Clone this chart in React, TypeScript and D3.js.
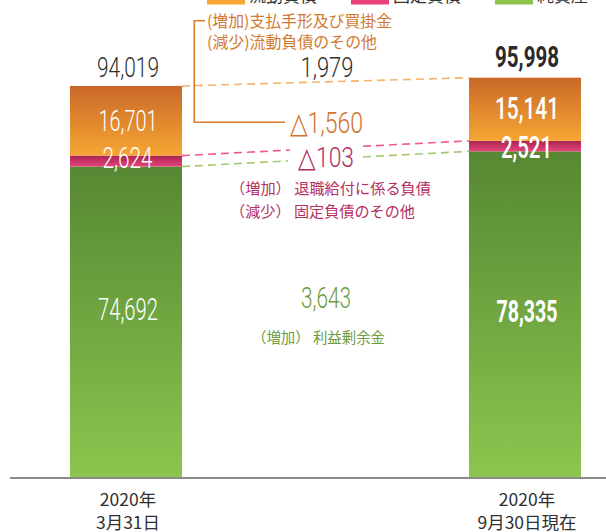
import React from "react";
import * as d3 from "d3";

const categories = ["2020年3月31日", "2020年9月30日現在"];
const categoryLine1 = ["2020年", "2020年"];
const categoryLine2 = ["3月31日", "9月30日現在"];
const currentLiabilities = [16701, 15141];
const fixedLiabilities = [2624, 2521];
const netAssets = [74692, 78335];
const totals = [94019, 95998];
const legendLabels = ["流動負債", "固定負債", "純資産"];
const changeCurrent = ["1,979", "△1,560"];
const changeFixed = "△103";
const changeNet = "3,643";
const noteCurrent = ["(増加)支払手形及び買掛金", "(減少)流動負債のその他"];
const noteFixed = ["（増加） 退職給付に係る負債", "（減少） 固定負債のその他"];
const noteNet = "（増加） 利益剰余金";

const W = 606;
const H = 532;
const NUM = "Roboto, 'DejaVu Sans', sans-serif";
const JP = "'Noto Sans CJK JP', 'Noto Sans', sans-serif";

export default function App() {
  const y = d3.scaleLinear().domain([0, 100000]).range([478, 61]);
  const x = d3.scalePoint<string>().domain(categories).range([126, 525]);
  const bw = 112;

  const fmt = d3.format(",");

  const segs = categories.map((c, i) => {
    const g0 = 0;
    const g1 = netAssets[i];
    const p1 = g1 + fixedLiabilities[i];
    const o1 = p1 + currentLiabilities[i];
    return { c, i, g0, g1, p1, o1 };
  });

  const bold = [false, true];
  const xl = x(categories[0])! + bw / 2;
  const xr = x(categories[1])! - bw / 2;

  const dashSeg = (y0: number, y1: number, gapA: number, gapB: number) => {
    const ly = d3.scaleLinear().domain([xl, xr]).range([y0, y1]);
    return [
      [xl, ly(xl), gapA, ly(gapA)],
      [gapB, ly(gapB), xr, ly(xr)],
    ];
  };

  const pinkSegs = dashSeg(y(segs[0].p1), y(segs[1].p1), 290, 363);
  const greenSegs = dashSeg(y(segs[0].g1), y(segs[1].g1), 288, 363);

  const numText = (
    key: string,
    txt: string,
    cx: number,
    by: number,
    fs: number,
    len: number,
    fill: string,
    weight: number
  ) => (
    <text
      key={key}
      x={cx - len / 2}
      y={by}
      fontSize={fs}
      fontFamily={NUM}
      fontWeight={weight}
      fill={fill}
      textLength={len}
      lengthAdjust="spacingAndGlyphs"
    >
      {txt}
    </text>
  );

  const legendX = [207, 351, 495];
  const legendColors = ["#f5a634", "#e8407a", "#8cc34a"];

  return (
    <svg
      width={W}
      height={H}
      style={{ position: "absolute", left: 0, top: 0, display: "block" }}
    >
      <defs>
        <linearGradient id="gOrange" x1="0" y1="0" x2="0" y2="1">
          <stop offset="0" stopColor="#c96828" />
          <stop offset="1" stopColor="#f6a634" />
        </linearGradient>
        <linearGradient id="gPink" x1="0" y1="0" x2="0" y2="1">
          <stop offset="0" stopColor="#a8264f" />
          <stop offset="1" stopColor="#e5437b" />
        </linearGradient>
        <linearGradient id="gGreen" x1="0" y1="0" x2="0" y2="1">
          <stop offset="0" stopColor="#578733" />
          <stop offset="1" stopColor="#8bc64e" />
        </linearGradient>
      </defs>
      <rect width={W} height={H} fill="#fff" />

      {/* legend (clipped at top) */}
      {legendLabels.map((l, i) => (
        <g key={l}>
          <rect x={legendX[i]} y={-8} width={38} height={12.5} fill={legendColors[i]} />
          <text x={legendX[i] + 42} y={1.5} fontSize={17} fontFamily={JP} fill="#333">
            {l}
          </text>
        </g>
      ))}

      {/* bars */}
      {segs.map((s) => {
        const x0 = x(s.c)! - bw / 2;
        return (
          <g key={s.c}>
            <rect x={x0} y={y(s.g1)} width={bw} height={y(s.g0) - y(s.g1)} fill="url(#gGreen)" />
            <rect x={x0} y={y(s.p1)} width={bw} height={y(s.g1) - y(s.p1)} fill="url(#gPink)" />
            <rect x={x0} y={y(s.o1)} width={bw} height={y(s.p1) - y(s.o1)} fill="url(#gOrange)" />
          </g>
        );
      })}

      {/* baseline */}
      <line x1={10} x2={W} y1={478} y2={478} stroke="#8a8a8a" strokeWidth={2} />

      {/* connector dashed lines */}
      <line
        x1={xl}
        y1={y(totals[0])}
        x2={xr}
        y2={y(totals[1])}
        stroke="#f6b46a"
        strokeWidth={1.6}
        strokeDasharray="8,5"
      />
      {pinkSegs.map((p, i) => (
        <line key={"p" + i} x1={p[0]} y1={p[1]} x2={p[2]} y2={p[3]} stroke="#ef5b90" strokeWidth={1.6} strokeDasharray="8,5" />
      ))}
      {greenSegs.map((p, i) => (
        <line key={"g" + i} x1={p[0]} y1={p[1]} x2={p[2]} y2={p[3]} stroke="#a6c96d" strokeWidth={1.6} strokeDasharray="8,5" />
      ))}

      {/* orange bracket */}
      <path d="M205,20.7 H194.3 V122.3 H285" fill="none" stroke="#d9792b" strokeWidth={1.6} />

      {/* totals */}
      {numText("t0", fmt(totals[0]), x(categories[0])! + 2, 77, 28, 62, "#2f2f2f", 300)}
      {numText("t1", fmt(totals[1]), x(categories[1])! + 2, 67, 30, 64, "#2a2a2a", 700)}

      {/* segment values */}
      {segs.map((s) => {
        const cx = x(s.c)! + 2;
        const w = bold[s.i] ? 500 : 300;
        const fs = bold[s.i] ? 31 : 30;
        return (
          <g key={"v" + s.c}>
            {numText("o" + s.i, fmt(currentLiabilities[s.i]), cx, (y(s.o1) + y(s.p1)) / 2 + (s.i ? 10 : 10), fs, s.i ? 64 : 59, "#fff", w)}
            {numText("p" + s.i, fmt(fixedLiabilities[s.i]), cx - 0.5, y(s.p1) + 12.5 + (s.i ? 5 : 0), fs, s.i ? 51 : 50, "#fff", w)}
            {numText("g" + s.i, fmt(netAssets[s.i]), cx, s.i ? 322 : 320, s.i ? 32 : 31, s.i ? 61 : 60, "#fff", bold[s.i] ? 700 : 300)}
          </g>
        );
      })}

      {/* change labels */}
      {numText("c1", changeCurrent[0], 327, 77, 28, 53, "#2f2f2f", 300)}
      {numText("c2", changeCurrent[1], 326.5, 133, 29, 73, "#d0742c", 300)}
      {numText("c3", changeFixed, 326, 167, 28, 56, "#b3305e", 300)}
      {numText("c4", changeNet, 326, 308, 29, 50, "#6d9c3f", 300)}

      {/* notes */}
      <text x={207} y={26.5} fontSize={16} fontFamily={JP} fill="#d27a30" textLength={185} lengthAdjust="spacingAndGlyphs">
        {noteCurrent[0]}
      </text>
      <text x={207} y={48} fontSize={16} fontFamily={JP} fill="#d27a30" textLength={170} lengthAdjust="spacingAndGlyphs">
        {noteCurrent[1]}
      </text>
      <text x={230} y={193.5} fontSize={15} fontFamily={JP} fill="#b5305f" textLength={201} lengthAdjust="spacingAndGlyphs">
        {noteFixed[0]}
      </text>
      <text x={230} y={216.5} fontSize={15} fontFamily={JP} fill="#b5305f" textLength={185} lengthAdjust="spacingAndGlyphs">
        {noteFixed[1]}
      </text>
      <text x={252} y={342.5} fontSize={15} fontFamily={JP} fill="#6d9c3f" textLength={133} lengthAdjust="spacingAndGlyphs">
        {noteNet}
      </text>

      {/* category labels */}
      {categories.map((c, i) => (
        <g key={"cat" + i}>
          <text x={x(c)! + 2} y={506} textAnchor="middle" fontSize={17.5} fontFamily={JP} fill="#2f2f2f">
            {categoryLine1[i]}
          </text>
          <text x={x(c)! + 2} y={529} textAnchor="middle" fontSize={17.5} fontFamily={JP} fill="#2f2f2f">
            {categoryLine2[i]}
          </text>
        </g>
      ))}
    </svg>
  );
}
